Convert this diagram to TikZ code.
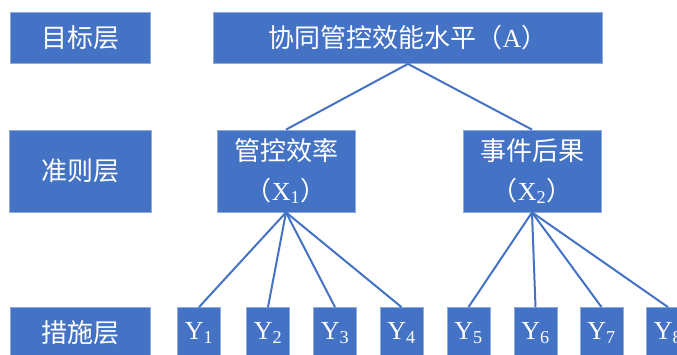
\documentclass[tikz,border=0pt]{standalone}
\usepackage{fontspec}
\setmainfont{Liberation Serif}
\newfontfamily\cjk{Noto Sans CJK SC}
\definecolor{boxblue}{HTML}{4472C4}
\definecolor{edgeblue}{HTML}{8FAADC}
\begin{document}
\begin{tikzpicture}[x=1pt,y=1pt,
  blk/.style={fill=boxblue, draw=edgeblue, line width=0.8pt, text=white,
    inner sep=0pt, align=center, font=\fontsize{26}{40}\selectfont},
  lnk/.style={draw=boxblue, line width=2pt}]
\useasboundingbox (0,0) rectangle (677,354);
\clip (0,0) rectangle (677,354);
% level labels
\node[blk, minimum width=140, minimum height=51] (lvA) at (80,316) {\cjk 目标层};
\node[blk, minimum width=142, minimum height=82] (lvB) at (80,183) {\cjk 准则层};
\node[blk, minimum width=140, minimum height=51] (lvC) at (80,21) {\cjk 措施层};
% goal
\node[blk, minimum width=389, minimum height=51] (A) at (408,316) {{\cjk 协同管控效能水平（}A{\cjk ）}};
% criteria
\node[blk, minimum width=138, minimum height=82] (X1) at (286,183) {{\cjk 管控效率}\\{\cjk （}X\textsubscript{1}{\cjk ）}};
\node[blk, minimum width=138, minimum height=82] (X2) at (532,183) {{\cjk 事件后果}\\{\cjk （}X\textsubscript{2}{\cjk ）}};
% measures
\foreach \i/\x in {1/199,2/268,3/335,4/401.5,5/468.5,6/535.5,7/601.5,8/668}{
  \node[blk, minimum width=43, minimum height=51] (Y\i) at (\x,21) {Y\textsubscript{\i}};
}
% links
\draw[lnk] (A.south) -- (X1.north);
\draw[lnk] (A.south) -- (X2.north);
\foreach \i in {1,2,3,4}{ \draw[lnk] (X1.south) -- (Y\i.north); }
\foreach \i in {5,6,7,8}{ \draw[lnk] (X2.south) -- (Y\i.north); }
\end{tikzpicture}
\end{document}
